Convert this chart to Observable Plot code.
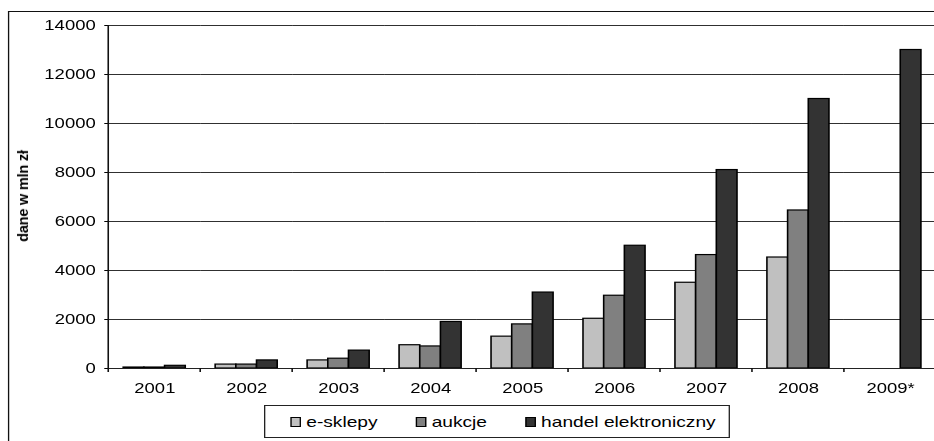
<!DOCTYPE html>
<html lang="pl">
<head>
<meta charset="utf-8">
<title>Handel elektroniczny w Polsce</title>
<script src="https://cdn.jsdelivr.net/npm/d3@7"></script>
<script src="https://cdn.jsdelivr.net/npm/@observablehq/plot@0.6"></script>
<style>
  html, body { margin: 0; padding: 0; background: #fff; }
  body { width: 934px; height: 441px; overflow: hidden; position: relative;
         font-family: "Liberation Sans", Arial, sans-serif; color: #000; }
  /* the whole chart is drawn in a narrower space and widened horizontally */
  #stage { position: absolute; left: 0; top: 0; width: 720px; height: 441px;
           transform: scaleX(1.32); transform-origin: 0 0; }
  #frame { position: absolute; left: 6px; top: 11px; width: 760px; height: 480px;
           border: 1.5px solid #111; box-sizing: border-box; }
  #chart { position: absolute; left: 0; top: 0; }
  #legend { position: absolute; left: 200px; top: 405px; width: 353px; height: 33px;
            box-sizing: border-box; border: 1px solid #222; background: #fff;
            display: flex; align-items: center; padding-left: 19px; gap: 29px;
            font-size: 14.5px; white-space: nowrap; }
  #legend .item { display: flex; align-items: center; }
  #legend .sw { width: 8px; height: 10px; box-sizing: border-box; border: 1px solid #000;
                margin-right: 4px; display: inline-block; }
  #ylabel { position: absolute; left: 23px; top: 196px; transform: translate(-50%, -50%) rotate(-90deg);
            font-weight: bold; font-size: 14.5px; letter-spacing: -0.2px; white-space: nowrap; }
</style>
</head>
<body>
<div id="stage">
  <div id="frame"></div>
  <div id="chart"></div>
  <div id="legend"></div>
</div>
<div id="ylabel">dane w mln zł</div>
<script>
// Years on the category axis
const years = ["2001", "2002", "2003", "2004", "2005", "2006", "2007", "2008", "2009*"];
// Series names and fills
const series = ["e-sklepy", "aukcje", "handel elektroniczny"];
const seriesColors = ["#c0c0c0", "#808080", "#333333"];
// Values in mln zł (no e-sklepy / aukcje figures for 2009*)
const eSklepy = [40, 160, 330, 950, 1300, 2030, 3500, 4530, null];
const aukcje  = [40, 160, 400, 900, 1800, 2970, 4630, 6450, null];
const handel  = [110, 330, 730, 1900, 3100, 5010, 8100, 11000, 13000];
// Value axis ticks
const yTicks = [0, 2000, 4000, 6000, 8000, 10000, 12000, 14000];

const valuesBySeries = [eSklepy, aukcje, handel];
const rows = [];
years.forEach((year, i) => {
  series.forEach((name, j) => {
    const v = valuesBySeries[j][i];
    if (v != null) rows.push({year, series: name, value: v});
  });
});

const plot = Plot.plot({
  width: 709,
  height: 403,
  marginLeft: 82,
  marginRight: 0,
  marginTop: 25,
  marginBottom: 35,
  style: {
    fontFamily: "'Liberation Sans', Arial, sans-serif",
    fontSize: "14px",
    color: "#000",
    background: "transparent",
    maxWidth: "none",
    overflow: "visible"
  },
  fx: {domain: years, padding: 0, round: false, axis: "bottom", label: null, tickSize: 0, tickPadding: 15},
  x: {domain: series, axis: null, paddingInner: 0, paddingOuter: 0.723, round: false},
  y: {domain: [0, 14000], ticks: yTicks, tickSize: 3, tickPadding: 7, label: null, tickFormat: d => String(d)},
  color: {domain: series, range: seriesColors},
  marks: [
    Plot.gridY(yTicks, {stroke: "#1a1a1a", strokeOpacity: 0.9, strokeWidth: 1}),
    Plot.barY(rows, {fx: "year", x: "series", y: "value", fill: "series", stroke: "#000", strokeWidth: 1.2}),
    Plot.ruleY([0], {stroke: "#222", strokeWidth: 1.2})
  ]
});

// Value axis line and category separator ticks, placed with the plot's own scales
const fxScale = plot.scale("fx");
const yScale = plot.scale("y");
const y0 = yScale.apply(0);
const yTop = yScale.apply(d3.max(yTicks));
const axes = d3.select(plot).append("g").attr("stroke", "#111").attr("stroke-width", 1.2);
axes.append("line")
  .attr("x1", fxScale.apply(years[0])).attr("x2", fxScale.apply(years[0]))
  .attr("y1", yTop).attr("y2", y0 + 4);
axes.selectAll(".sep").data(years.slice(1)).join("line")
  .attr("class", "sep")
  .attr("x1", d => fxScale.apply(d)).attr("x2", d => fxScale.apply(d))
  .attr("y1", y0).attr("y2", y0 + 4);

document.getElementById("chart").append(plot);

// Legend with outlined swatches
const legend = d3.select("#legend");
const item = legend.selectAll(".item").data(series).join("div").attr("class", "item");
item.append("span").attr("class", "sw").style("background", (d, i) => seriesColors[i]);
item.append("span").text(d => d);
</script>
</body>
</html>
